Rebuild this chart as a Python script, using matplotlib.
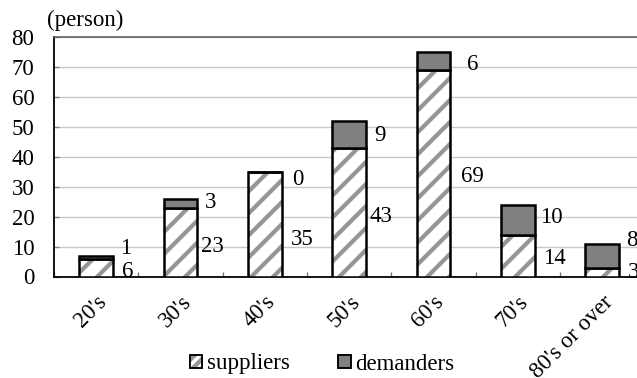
import matplotlib
matplotlib.use("Agg")
import matplotlib.pyplot as plt
from matplotlib.patches import Patch
from matplotlib.legend_handler import HandlerTuple
import numpy as np

# Age groups and head counts
categories = ["20's", "30's", "40's", "50's", "60's", "70's", "80's or over"]
suppliers = [6, 23, 35, 43, 69, 14, 3]
demanders = [1, 3, 0, 9, 6, 10, 8]
yticks = [0, 10, 20, 30, 40, 50, 60, 70, 80]

# Label nudges (data units, vertical) and horizontal gaps (pixels) from bar edge
sup_dy = [-1.4, -1.6, -5.0, -1.6, -0.9, -1.1, -0.3]
dem_dy = [2.7, 0.2, -2.4, -0.5, -1.0, 0.7, 5.2]
sup_dx = [9, 4, 9, 3, 11, 8, 9]
dem_dx = [7, 8, 10, 8, 17, 5, 7]

W, H, DPI = 637, 378, 132
P = 72 / DPI  # points per pixel

plt.rcParams["font.family"] = ["Liberation Serif", "DejaVu Serif"]
plt.rcParams["hatch.linewidth"] = 4.2 * P

fig = plt.figure(figsize=(W / DPI, H / DPI), dpi=DPI)

left_px, right_px = 54.0, 644.3
top_px, bot_px = 37.3, 276.5
ax = fig.add_axes([left_px / W, 1 - bot_px / H,
                   (right_px - left_px) / W, (bot_px - top_px) / H])

x = np.arange(len(categories))
bw = 0.40
fs = 22.9 * P
hatch_grey = "#959595"

# hatched supplier segments, then black outlines on top
ax.bar(x, suppliers, bw, color="white", edgecolor=hatch_grey, hatch="//",
       linewidth=0, zorder=3)
ax.bar(x, suppliers, bw, fill=False, edgecolor="black", linewidth=2.5 * P,
       zorder=4)
ax.bar(x, demanders, bw, bottom=suppliers, color="#808080",
       edgecolor="black", linewidth=2.5 * P, zorder=4)

ax.set_xlim(-0.5, len(categories) - 0.5)
ax.set_ylim(0, 80)
ax.set_yticks(yticks)
ax.yaxis.grid(True, color="#c8c8c8", linewidth=1.4 * P, zorder=0)
ax.set_axisbelow(True)

for i, (s, d) in enumerate(zip(suppliers, demanders)):
    ax.annotate(str(s), xy=(i + bw / 2, s / 2 + sup_dy[i]),
                xytext=(sup_dx[i] * P, 0), textcoords="offset points",
                ha="left", va="center", fontsize=fs, zorder=5,
                annotation_clip=False)
    ax.annotate(str(d), xy=(i + bw / 2, s + d / 2 + dem_dy[i]),
                xytext=(dem_dx[i] * P, 0), textcoords="offset points",
                ha="left", va="center", fontsize=fs, zorder=5,
                annotation_clip=False)

# category labels at centres, tick marks at boundaries
ax.set_xticks(x)
ax.set_xticklabels(categories, rotation=45, ha="right", va="top",
                   rotation_mode="anchor", fontsize=fs)
ax.set_xticks(np.arange(len(categories) + 1) - 0.5, minor=True)
ax.tick_params(axis="x", which="major", length=0, pad=15 * P)
ax.tick_params(axis="x", which="minor", direction="in", length=5 * P,
               color="#707070", width=1.3 * P)
ax.tick_params(axis="y", direction="in", length=5 * P, color="#808080",
               width=1.3 * P, pad=19.5 * P, labelsize=fs)

ax.spines["left"].set_color("black")
ax.spines["left"].set_linewidth(1.8 * P)
ax.spines["bottom"].set_color("black")
ax.spines["bottom"].set_linewidth(1.8 * P)
ax.spines["top"].set_color("#606060")
ax.spines["top"].set_linewidth(1.6 * P)
ax.spines["right"].set_visible(False)

fig.text(47 / W, 1 - 20 / H, "(person)", fontsize=fs,
         ha="left", va="center")

sup_handle = (
    Patch(facecolor="white", edgecolor=hatch_grey, hatch="////", linewidth=0),
    Patch(fill=False, edgecolor="black", linewidth=1.9 * P),
)
dem_handle = Patch(facecolor="#808080", edgecolor="black", linewidth=1.9 * P)
fig.legend(handles=[sup_handle, dem_handle], labels=["suppliers", "demanders"],
           handler_map={tuple: HandlerTuple(ndivide=1, pad=0)},
           loc="center", bbox_to_anchor=(322 / W, 1 - 364 / H),
           ncol=2, frameon=False, fontsize=fs, handlelength=0.55,
           handleheight=0.55, handletextpad=0.2, columnspacing=2.1,
           borderpad=0)

fig.savefig("out.png", dpi=DPI)
